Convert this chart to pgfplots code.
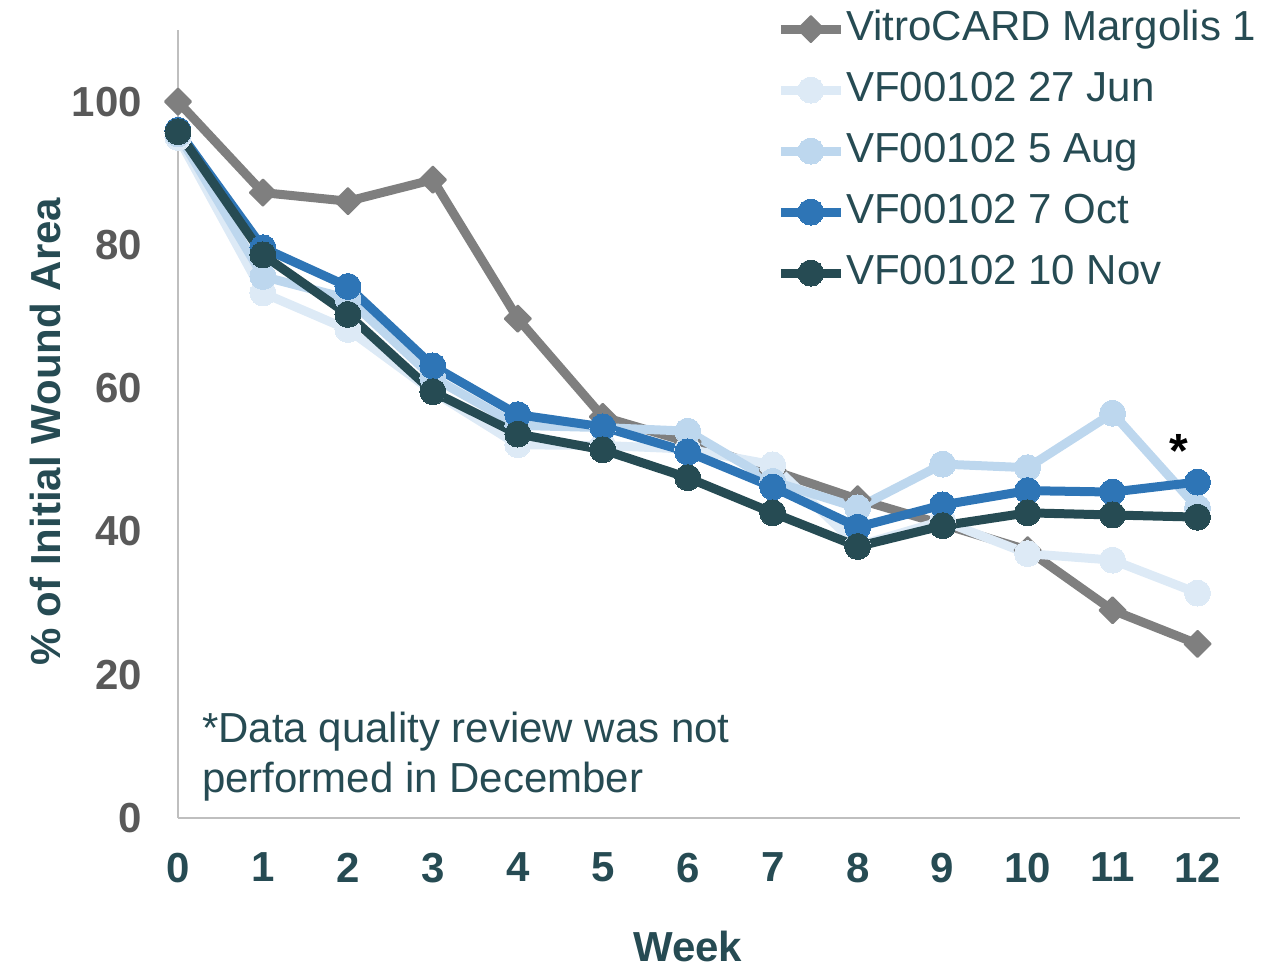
\documentclass[border=0pt]{standalone}
\usepackage{pgfplots}
\pgfplotsset{compat=1.18}
\usepackage{fontspec}
\setmainfont{Liberation Sans}
\definecolor{cgray}{HTML}{7F7F7F}
\definecolor{cjun}{HTML}{DDEAF6}
\definecolor{caug}{HTML}{BDD7EE}
\definecolor{coct}{HTML}{2E75B6}
\definecolor{cnov}{HTML}{264B53}
\definecolor{ctick}{HTML}{595959}
\definecolor{caxis}{HTML}{BFBFBF}
\begin{document}
\begin{tikzpicture}
\path[use as bounding box] (-89pt,-72.5pt) rectangle (550pt,409pt);
\begin{axis}[
  scale only axis,
  width=531pt, height=394pt,
  xmin=0, xmax=12.5, ymin=0, ymax=110,
  axis lines*=left,
  axis line style={caxis, line width=1pt},
  xtick={0,1,...,12}, ytick={0,20,...,100},
  major tick length=0pt,
  clip=false,
  /pgf/number format/assume math mode=true,
  xticklabel style={font=\fontsize{21}{25}\selectfont\bfseries, text=cnov, yshift=-14pt},
  yticklabel style={font=\fontsize{21}{25}\selectfont\bfseries, text=ctick, xshift=-14.5pt},
  xlabel={Week},
  ylabel={\% of Initial Wound Area},
  xlabel style={font=\fontsize{21}{25}\selectfont\bfseries, text=cnov, at={(axis cs:6,-17.9)}, anchor=center},
  ylabel style={font=\fontsize{21}{25}\selectfont\bfseries, text=cnov, at={(axis description cs:-0.125,0.49)}, anchor=center, rotate=0},
  legend style={draw=none, fill=none, at={(axis description cs:0.563,1.027)}, anchor=north west,
    inner sep=0pt, font=\fontsize{21}{25}\selectfont, text=cnov,
    nodes={inner xsep=0.5pt, inner ysep=0pt, text height=15.5pt, text depth=4.5pt},
    row sep=10.5pt},
  legend cell align=left,
  legend image code/.code={\draw[mark repeat=2,mark phase=2] plot coordinates {(0pt,0pt)(15pt,0pt)(30pt,0pt)};},
  every axis plot/.append style={line width=4.5pt, line join=round},
]
\addplot[cgray, mark=square*, mark size=4.6pt, mark options={rotate=45, line width=1pt}] coordinates {
(0,100) (1,87.3) (2,86.1) (3,89.1) (4,69.7) (5,56) (6,52.5) (7,48.5) (8,44.5) (9,41) (10,37.4) (11,29) (12,24.3)};
\addlegendentry{VitroCARD Margolis 1}
\addplot[cjun, mark=*, mark size=6.5pt, mark options={line width=0pt}] coordinates {
(0,95) (1,73.3) (2,68.2) (3,59.5) (4,52.1) (5,52) (6,51.5) (7,49.3) (8,38) (9,41.5) (10,36.9) (11,36) (12,31.4)};
\addlegendentry{VF00102 27 Jun}
\addplot[caug, mark=*, mark size=6.5pt, mark options={line width=0pt}] coordinates {
(0,95.5) (1,75.6) (2,72.5) (3,61.5) (4,54.8) (5,54.5) (6,54.0) (7,47) (8,43.3) (9,49.4) (10,48.9) (11,56.5) (12,43.3)};
\addlegendentry{VF00102 5 Aug}
\addplot[coct, mark=*, mark size=6.5pt, mark options={line width=0pt}] coordinates {
(0,96) (1,79.6) (2,74.2) (3,63.1) (4,56.3) (5,54.6) (6,51.1) (7,46.2) (8,40.6) (9,43.7) (10,45.7) (11,45.5) (12,46.9)};
\addlegendentry{VF00102 7 Oct}
\addplot[cnov, mark=*, mark size=6.5pt, mark options={line width=0pt}] coordinates {
(0,95.8) (1,78.6) (2,70.3) (3,59.5) (4,53.6) (5,51.4) (6,47.5) (7,42.6) (8,37.9) (9,40.8) (10,42.6) (11,42.3) (12,42.0)};
\addlegendentry{VF00102 10 Nov}
\node[font=\fontsize{24}{26}\selectfont\bfseries, text=black] at (axis cs:11.78,51.2) {*};
\node[font=\fontsize{21}{25}\selectfont, text=cnov, anchor=west, align=left, inner sep=0pt] at (axis cs:0.28,8.6) {*Data quality review was not\\performed in December};
\end{axis}
\end{tikzpicture}
\end{document}
